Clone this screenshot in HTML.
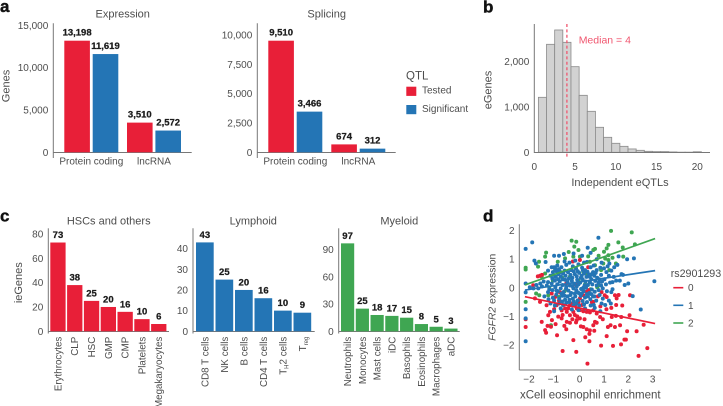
<!DOCTYPE html>
<html lang="en">
<head>
<meta charset="utf-8">
<title>QTL summary figure</title>
<style>
html,body{margin:0;padding:0;background:#fff;width:723px;height:406px;overflow:hidden}
svg{display:block;font-family:"Liberation Sans",sans-serif}
text{fill:#4d4d4d;font-size:10px}
.t{font-size:11px}
.v{font-weight:700;font-size:9.5px;fill:#1c1c1c;stroke:#1c1c1c;stroke-width:.25px;text-anchor:middle}
.l{font-weight:700;font-size:17px;fill:#111;stroke:#111;stroke-width:.4px}
.c{text-anchor:middle}
</style>
</head>
<body>
<svg id="fig" xmlns="http://www.w3.org/2000/svg" width="723" height="406" viewBox="0 0 723 406">
<text class="l" x="0" y="12">a</text>
<text class="l" x="483" y="12.5">b</text>
<text class="l" x="0" y="221.5">c</text>
<text class="l" x="483" y="221.5">d</text>

<text class="t c" x="122.7" y="17.5">Expression</text>
<text class="t c" x="326.7" y="17.5">Splicing</text>
<text class="t c" x="108.7" y="224.3">HSCs and others</text>
<text class="t c" x="253.3" y="224.3">Lymphoid</text>
<text class="t c" x="399.3" y="224.3">Myeloid</text>

<text class="t c" transform="translate(9.3,86) rotate(-90)">Genes</text>
<text class="t c" transform="translate(491.3,90) rotate(-90)">eGenes</text>
<text class="t c" transform="translate(22,282.7) rotate(-90)">ieGenes</text>
<text class="t c" transform="translate(495.3,297.3) rotate(-90)" style="font-size:10.4px"><tspan font-style="italic" style="font-size:10.4px">FGFR2</tspan> expression</text>
<text class="t c" x="620" y="186">Independent eQTLs</text>
<text class="t c" x="590.3" y="398.3" style="font-size:11.5px">xCell eosinophil enrichment</text>

<text x="406" y="79.3" style="font-size:11.5px">QTL</text>
<rect x="406.3" y="86.7" width="10" height="9.2" fill="#e81f38"/>
<text x="422" y="93.6">Tested</text>
<rect x="406.3" y="105" width="10" height="9.2" fill="#2475b5"/>
<text x="422" y="112">Significant</text>

<text x="578.7" y="43.6" style="font-size:10.5px;fill:#f0566f">Median = 4</text>

<text x="670.7" y="277" style="font-size:10.7px">rs2901293</text>
<line x1="673.3" x2="683.3" y1="287.7" y2="287.7" stroke="#e81f38" stroke-width="1.6"/>
<text x="688" y="291.2">0</text>
<line x1="673.3" x2="683.3" y1="305.3" y2="305.3" stroke="#2475b5" stroke-width="1.6"/>
<text x="688" y="308.8">1</text>
<line x1="673.3" x2="683.3" y1="323" y2="323" stroke="#3fa652" stroke-width="1.6"/>
<text x="688" y="326.5">2</text>
</svg>
<script>
const qtlCategories = ['Protein coding', 'lncRNA'];
const expressionTested = [13198, 3510];
const expressionSignificant = [11619, 2572];
const splicingTested = [9510, 674];
const splicingSignificant = [3466, 312];
const expressionTicks = [0, 5000, 10000, 15000];
const splicingTicks = [0, 2500, 5000, 7500, 10000];

const histValues = [1214, 2384, 2700, 2428, 1890, 1258, 905, 552, 331, 199, 132, 74, 44, 22, 15, 15, 8, 3, 3, 12];
const histYTicks = [0, 1000, 2000];
const histXTicks = [0, 5, 10, 15, 20];
const medianValue = 4;

const hscCategories = ['Erythrocytes', 'CLP', 'HSC', 'GMP', 'CMP', 'Platelets', 'Megakaryocytes'];
const hscValues = [73, 38, 25, 20, 16, 10, 6];
const hscTicks = [0, 20, 40, 60, 80];
const lymphoidCategories = ['CD8 T cells', 'NK cells', 'B cells', 'CD4 T cells', 'TH2 cells', 'Treg'];
const lymphoidValues = [43, 25, 20, 16, 10, 9];
const lymphoidTicks = [0, 10, 20, 30, 40];
const myeloidCategories = ['Neutrophils', 'Monocytes', 'Mast cells', 'iDC', 'Basophils', 'Eosinophils', 'Macrophages', 'aDC'];
const myeloidValues = [97, 25, 18, 17, 15, 8, 5, 3];
const myeloidTicks = [0, 30, 60, 90];

const scatterXTicks = [-2, -1, 0, 1, 2, 3];
const scatterYTicks = [-2, -1, 0, 1, 2];
const fitX = [-2.25, 3.1];
const fitY0 = [-0.31, -1.25];
const fitY1 = [-0.08, 0.6];
const fitY2 = [0.1, 1.72];

const genotype2Points = [[1.29,1.99],[2.14,1.94],[-0.33,1.65],[-0.14,1.61],[-0.22,1.44],[-0.05,1.32],[-1.38,1.23],[-1.42,1.09],[-1.67,0.91],[-1.71,0.74],[-2.22,0.70],[-2.22,0.64],[-2.22,-0.49],[-1.18,-1.31],[1.18,1.50],[1.59,1.59],[0.56,1.32],[0.63,1.36],[1.00,1.26],[1.11,1.38],[1.77,1.41],[2.27,1.52],[1.79,1.09],[1.49,0.85],[1.18,1.14],[1.18,0.97],[0.97,0.85],[0.63,0.79],[0.42,0.91],[0.01,1.09],[-0.26,1.09],[-0.60,1.03],[-0.90,0.91],[-1.42,0.50],[-1.56,0.39],[-1.79,-0.20],[-1.66,-0.26],[-1.29,-0.26],[0.81,0.09],[0.29,0.50],[0.15,0.56],[-0.81,0.56],[-1.01,0.62],[-0.40,0.39],[1.35,1.05],[1.05,1.02],[0.78,1.12],[0.88,0.62],[1.22,0.62],[0.35,1.10],[-0.45,1.25],[-0.72,0.35],[-1.10,0.25],[-0.05,0.25],[0.45,-0.05],[0.72,0.02],[-0.85,-0.32],[-1.25,0.02],[-0.62,-0.12],[0.22,0.12]];

const genotype0Points = [[-2.22,-1.10],[-2.22,-1.37],[0.32,-2.65],[2.42,-2.38],[2.78,-2.11],[-0.14,-2.24],[-0.70,-2.21],[-0.93,-1.66],[-0.26,-1.83],[-1.42,-1.48],[-1.38,-1.57],[-1.32,-1.33],[-1.56,-1.19],[-1.29,-0.96],[-1.14,-1.13],[-0.99,-1.27],[-1.18,-1.36],[-0.53,-1.19],[-0.63,-1.33],[-0.40,-1.22],[-0.12,-1.13],[-0.15,-1.21],[0.01,-1.07],[0.15,-1.37],[0.29,-1.45],[0.42,-1.49],[0.40,-1.61],[0.23,-1.73],[0.40,-1.87],[0.88,-2.02],[1.11,-1.69],[1.27,-1.31],[1.45,-1.37],[1.66,-1.31],[1.95,-1.52],[1.84,-1.81],[1.90,-1.81],[1.70,-1.98],[1.37,-2.03],[2.34,-1.52],[2.63,-1.29],[2.05,-0.96],[1.71,-1.02],[1.49,-0.98],[1.32,-1.02],[1.16,-1.37],[0.84,-1.02],[0.63,-1.19],[0.56,-1.31],[0.70,-1.22],[-0.53,-0.84],[-0.40,-0.96],[-0.26,-0.84],[-0.12,-0.72],[0.01,-0.78],[0.15,-0.82],[0.29,-0.84],[0.42,-0.86],[0.56,-0.79],[0.70,-0.90],[-0.95,-0.61],[-0.74,-0.79],[-0.60,-0.72],[-0.40,-0.61],[-0.88,-1.01],[-0.74,-1.07],[-1.63,-0.49],[-1.84,-0.37],[-1.91,0.09],[-1.63,0.42],[0.01,0.97],[1.03,-0.26],[1.11,-0.32],[1.45,-0.26],[1.52,-0.37],[2.07,-0.26],[0.56,-0.49],[0.29,-0.14],[0.36,-0.08],[0.01,-0.37],[0.15,-0.26],[-0.19,-0.61],[-0.33,-0.55],[-0.47,-0.72],[-1.15,-0.20],[-1.01,-0.32],[-0.81,-0.16],[-1.36,-0.61],[-1.22,-0.84],[-0.20,-0.95],[-0.10,-1.00],[0.10,-0.60],[0.50,-0.50],[0.85,-0.65],[1.10,-0.75],[1.30,-0.70],[1.50,-0.60],[0.75,-0.30],[0.90,-0.15],[-0.05,-0.50],[0.60,-1.50],[0.95,-1.10],[-1.05,-0.75],[-0.70,-0.95],[-0.30,-1.10],[-0.55,-1.45],[0.20,-1.10],[0.05,-1.35],[1.60,-0.25],[-1.72,0.40],[-1.55,0.45],[-0.28,0.92],[0.35,0.72],[-0.55,0.15],[-0.15,0.10],[1.75,-0.62],[-0.85,-0.45]];

const genotype1Points = [[-2.22,1.36],[-1.95,1.59],[-1.86,0.95],[0.77,1.75],[0.33,1.40],[-2.22,0.15],[-2.22,-0.16],[-2.22,-0.75],[-2.22,-1.07],[-2.22,-1.87],[3.07,0.23],[2.51,-0.76],[2.18,-0.29],[2.23,1.03],
[-1.05,0.72],[-0.92,0.78],[-0.85,0.65],[-0.75,0.72],[-0.95,0.58],[-1.10,0.55],[-0.62,0.60],[-0.55,0.80],[-0.42,0.88],[-0.28,0.75],[-0.15,0.68],[-0.05,0.82],[0.10,0.70],[0.22,0.62],[0.30,0.90],[0.45,0.72],[0.58,0.78],[0.70,0.62],[0.85,0.70],[1.00,0.68],[1.15,0.75],[1.30,0.60],[1.42,0.72],
[-1.20,0.42],[-1.08,0.45],[-0.98,0.38],[-0.88,0.48],[-0.78,0.40],[-0.68,0.50],[-0.58,0.42],[-0.48,0.55],[-0.38,0.45],[-0.30,0.35],[-0.20,0.48],[-0.12,0.40],[-0.02,0.52],[0.08,0.42],[0.18,0.50],[0.28,0.38],[0.38,0.47],[0.48,0.30],[0.60,0.42],[0.72,0.35],[0.88,0.45],[1.02,0.30],[1.20,0.42],[1.40,0.38],[1.72,0.48],[1.78,0.45],
[-1.30,0.20],[-1.15,0.15],[-1.02,0.25],[-0.92,0.12],[-0.82,0.22],[-0.70,0.10],[-0.60,0.28],[-0.50,0.20],[-0.40,0.08],[-0.32,0.24],[-0.22,0.14],[-0.10,0.28],[0.02,0.18],[0.12,0.30],[0.24,0.22],[0.34,0.10],[0.42,0.20],[0.52,0.12],[0.64,0.24],[0.78,0.18],[0.92,0.22],[1.08,0.12],[1.25,0.18],[1.50,0.25],[1.85,0.10],
[-1.70,-0.02],[-1.55,0.05],[-1.35,0.08],[-1.25,-0.05],[-1.12,-0.08],[-1.00,0.02],[-0.90,-0.12],[-0.78,-0.02],[-0.66,-0.15],[-0.56,-0.03],[-0.46,-0.10],[-0.35,-0.18],[-0.26,-0.02],[-0.14,-0.08],[-0.04,-0.18],[0.06,-0.04],[0.16,-0.12],[0.26,0.00],[0.40,-0.18],[0.50,-0.06],[0.62,-0.14],[0.78,-0.08],[0.95,-0.02],[1.12,-0.12],[1.35,-0.05],
[-1.45,-0.30],[-1.28,-0.40],[-1.10,-0.35],[-0.96,-0.24],[-0.84,-0.38],[-0.72,-0.28],[-0.60,-0.42],[-0.50,-0.30],[-0.38,-0.25],[-0.28,-0.38],[-0.18,-0.30],[-0.08,-0.44],[0.04,-0.28],[0.12,-0.46],[0.22,-0.34],[0.34,-0.30],[0.44,-0.40],[0.60,-0.30],[0.68,-0.45],[0.95,-0.38],[1.20,-0.45],
[-1.20,-0.55],[-1.02,-0.62],[-0.85,-0.55],[-0.68,-0.60],[-0.55,-0.52],[-0.42,-0.50],[-0.26,-0.62],[-0.14,-0.55],[-0.02,-0.62],[0.18,-0.58],[0.30,-0.50],[0.45,-0.62],[0.58,-0.60],[0.90,-0.55],[1.05,-0.60],[1.28,-0.55],
[-1.05,-0.82],[-0.78,-0.72],[-0.32,-0.76],[0.22,-0.72],[0.62,-0.70],[0.85,-0.82],[-0.65,1.18],[-1.30,0.60],[-1.48,0.22],[-1.62,0.15],[-1.78,0.10],[-1.90,-0.02],[-2.05,0.02],[-1.80,0.85],[-1.40,0.90],[-1.05,1.12],[-0.85,1.12],[-0.62,0.92],[-0.25,1.20],[0.10,1.12],[0.45,1.22],[0.70,1.00],[0.90,0.88],[1.22,0.85],[1.55,0.80],[1.60,1.10],[1.95,1.00],[-0.18,0.95],[0.18,0.88],[-0.05,-0.78],[1.30,-0.15],[1.65,0.25],[2.00,0.15],[1.35,0.20],[1.10,0.55],[0.55,0.55],[-1.15,0.72],[-0.35,0.62],[-0.72,-0.48],[0.15,0.00],[-0.20,-0.20],[0.55,-0.30],[-1.30,-0.15],[-0.05,0.12],[0.50,0.48],[0.82,-0.25],
[-1.00,0.66],[-0.80,0.55],[-0.70,0.30],[-0.45,0.32],[-0.25,0.58],[-0.08,0.58],[0.05,0.35],[0.13,0.62],[0.32,0.56],[0.42,0.38],[0.66,0.52],[0.80,0.30],[-1.12,0.32],[-0.88,0.30],[-0.55,0.04],[-0.30,0.06],[-0.12,0.05],[0.20,0.08],[0.30,-0.22],[-0.42,-0.42],[-0.24,-0.48],[-0.10,-0.15],[0.08,-0.20],[0.48,-0.22],[-0.95,-0.10],[-0.75,-0.20],[-1.05,-0.45],[-0.62,-0.28],[0.70,0.08],[0.88,0.08]];

const svg = document.getElementById('fig');
const NS = 'http://www.w3.org/2000/svg';

function make(tag, attrs, parent) {
  const el = document.createElementNS(NS, tag);
  for (const k in attrs) el.setAttribute(k, attrs[k]);
  (parent || svg).appendChild(el);
  return el;
}
function fmt(v) { return String(v).replace(/\B(?=(\d{3})+$)/g, ','); }
function linear(d0, d1, r0, r1) { return v => r0 + (v - d0) * (r1 - r0) / (d1 - d0); }

function drawAxes(name, xLeft, xRight, yBase, yTop, yBottom, yScale, yTicks) {
  const yAxis = make('line', {x1: xLeft, x2: xLeft, y1: yTop, y2: yBottom, stroke: '#777', 'stroke-width': 1});
  
  
  const xAxis = make('line', {x1: xLeft, x2: xRight, y1: yBase, y2: yBase, stroke: '#777', 'stroke-width': 1});
  
  
  yTicks.forEach(t => {
    const lab = make('text', {x: xLeft - 5, y: yScale(t) + 3.5, 'text-anchor': 'end'});
    lab.textContent = fmt(t).replace('-', '\u2212');
    
    
  });
}

function drawQtl(name, tested, significant, x0, groupStep, xLeft, xRight, yMaxVal, ticks) {
  const yScale = linear(0, yMaxVal, 152.3, 40.7);
  drawAxes(name, xLeft, xRight, 152.5, 23.3, 158, yScale, ticks);
  const width = 25.6, offset = 28.4;
  qtlCategories.forEach((cat, i) => {
    [[tested, '#e81f38', 'tested', 0], [significant, '#2475b5', 'significant', offset]].forEach(s => {
      const x = x0 + i * groupStep + s[3];
      const bar = make('rect', {x: x, y: yScale(s[0][i]), width: width, height: 152.3 - yScale(s[0][i]), fill: s[1]});
      
      
      const val = make('text', {class: 'v', x: x + width / 2, y: yScale(s[0][i]) - 5});
      val.textContent = fmt(s[0][i]);
      
      
    });
    const lab = make('text', {class: 'c', x: x0 + i * groupStep + (offset + width) / 2, y: 164.4});
    lab.textContent = cat;
    
    
  });
}
drawQtl('expression', expressionTested, expressionSignificant, 64.3, 62.7, 53.3, 191.7, 13198, expressionTicks);
drawQtl('splicing', splicingTested, splicingSignificant, 268.3, 63, 257.3, 395.7, 9510, splicingTicks);

(function drawHistogram() {
  const x = linear(0, 20, 534.3, 697.3);
  const y = linear(0, 2000, 152.3, 61.7);
  histValues.forEach((v, i) => {
    const bin = i + 1;
    const bar = make('rect', {x: x(bin - 0.5), y: y(v), width: x(bin + 0.5) - x(bin - 0.5), height: 152.3 - y(v), fill: '#d2d2d2', stroke: '#8a8a8a', 'stroke-width': 0.8});
    
    
  });
  drawAxes('histogram', 534.3, 710, 152.5, 24, 153, y, histYTicks);
  histXTicks.forEach(t => {
    const lab = make('text', {class: 'c', x: x(t), y: 170});
    lab.textContent = t;
    
    
  });
  const med = make('line', {x1: x(medianValue), x2: x(medianValue), y1: 24, y2: 158, stroke: '#f0566f', 'stroke-width': 1.3, 'stroke-dasharray': '3 2.4'});
  
  
})();

function drawRanked(name, cats, vals, ticks, color, xLeft, xRight, x0, step, width, topVal, topY) {
  const y = linear(0, topVal, 331.3, topY);
  drawAxes(name, xLeft, xRight, 331.5, 228.3, 333.5, y, ticks);
  cats.forEach((cat, i) => {
    const x = x0 + i * step;
    const bar = make('rect', {x: x, y: y(vals[i]), width: width, height: 331.3 - y(vals[i]), fill: color});
    
    
    const val = make('text', {class: 'v', x: x + width / 2, y: y(vals[i]) - 4.5});
    val.textContent = vals[i];
    
    
    const lab = make('text', {'text-anchor': 'end', transform: 'translate(' + (x + width / 2 + 3.4) + ',336.7) rotate(-90)', style: 'font-size:9.8px'});
    const m = cat.match(/^T(H|reg)(.*)$/);
    if (m) {
      const a = make('tspan', {}, lab);
      a.textContent = 'T';
      const b = make('tspan', {dy: 2, style: 'font-size:6px'}, lab);
      b.textContent = m[1];
      if (m[2]) {
        const c = make('tspan', {dy: -2}, lab);
        c.textContent = m[2];
      }
    } else {
      lab.textContent = cat;
    }
    
    
  });
}
drawRanked('hscs', hscCategories, hscValues, hscTicks, '#e81f38', 48.3, 169, 50.3, 16.8, 15.3, 80, 234);
drawRanked('lymphoid', lymphoidCategories, lymphoidValues, lymphoidTicks, '#2475b5', 193, 314.7, 196, 19.5, 17.7, 40, 248.6);
drawRanked('myeloid', myeloidCategories, myeloidValues, myeloidTicks, '#3fa652', 338.7, 459.7, 341, 14.76, 13.2, 90, 249.7);

(function drawScatter() {
  const x = linear(0, 1, 579.67, 604);
  const y = linear(0, 1, 287.8, 259.2);
  const yAxis = make('line', {x1: 519.3, x2: 519.3, y1: 224.3, y2: 370, stroke: '#777', 'stroke-width': 1});
  
  
  const xAxis = make('line', {x1: 519.3, x2: 661, y1: 370, y2: 370, stroke: '#777', 'stroke-width': 1});
  
  
  scatterXTicks.forEach(t => {
    const lab = make('text', {class: 'c', x: x(t) - (t < 0 ? 2 : 0), y: 382.5});
    lab.textContent = String(t).replace('-', '\u2212');
    
    
  });
  scatterYTicks.forEach(t => {
    const lab = make('text', {x: 514.5, y: y(t) + 3.5, 'text-anchor': 'end'});
    lab.textContent = String(t).replace('-', '\u2212');
    
    
  });
  [[genotype2Points, '#3fa652', '2'], [genotype0Points, '#e81f38', '0'], [genotype1Points, '#2475b5', '1']].forEach(s => {
    s[0].forEach(p => {
      const dot = make('circle', {cx: x(p[0]), cy: y(p[1]), r: 2, fill: s[1]});
      
      
    });
  });
  [[fitY0, '#e81f38', '0'], [fitY1, '#2475b5', '1'], [fitY2, '#3fa652', '2']].forEach(s => {
    const ln = make('line', {x1: x(fitX[0]), x2: x(fitX[1]), y1: y(s[0][0]), y2: y(s[0][1]), stroke: s[1], 'stroke-width': 1.7});
    
    
  });
})();
</script>
</body>
</html>
